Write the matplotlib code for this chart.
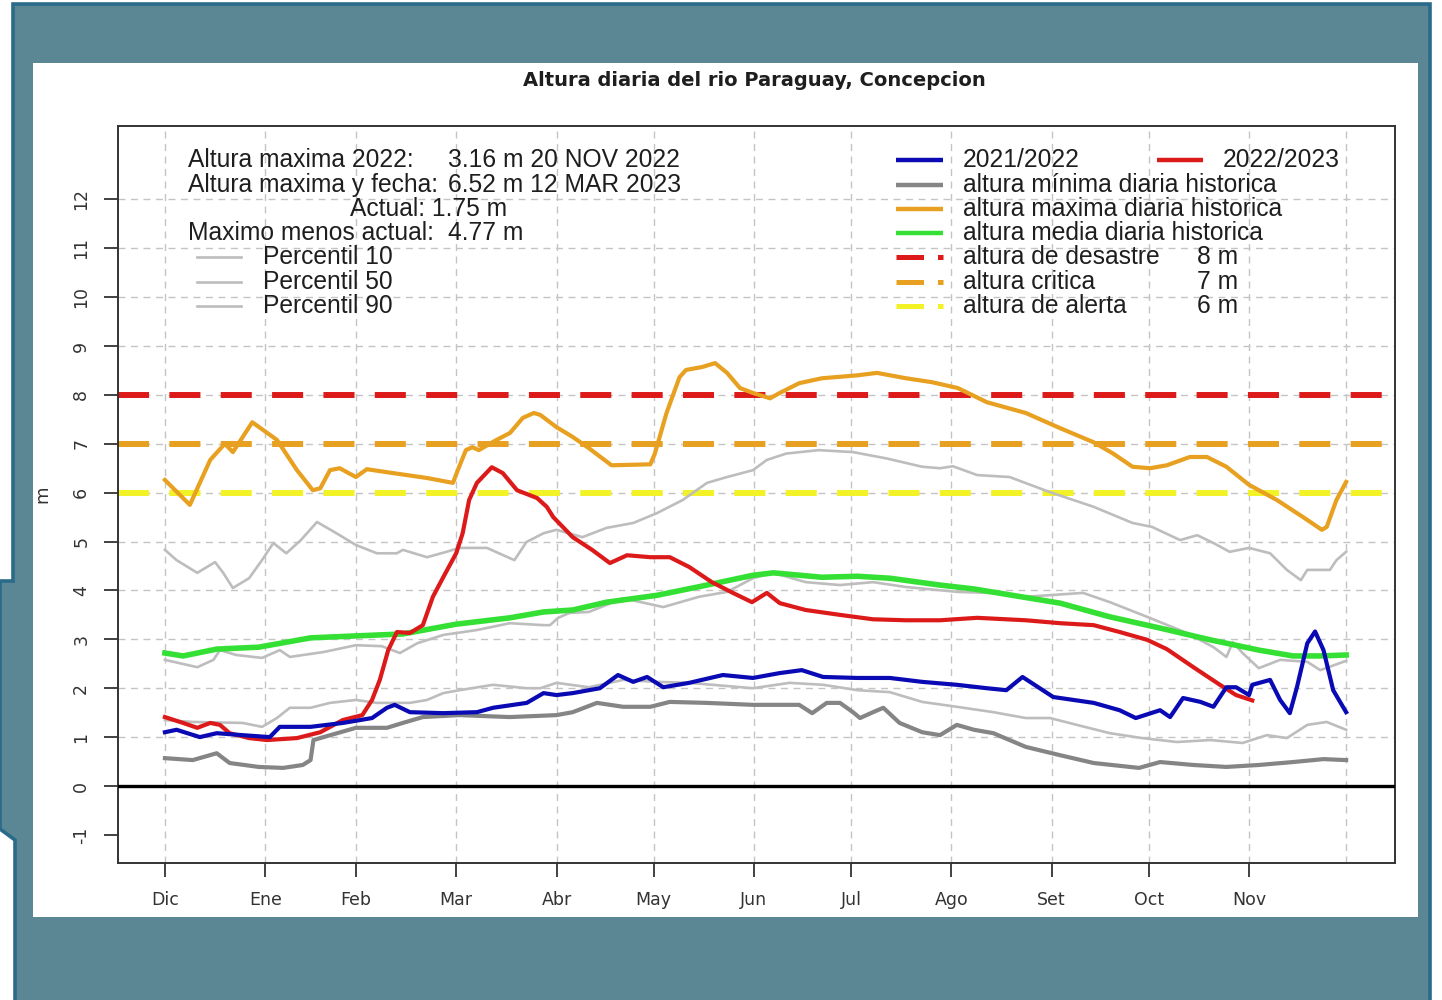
import matplotlib
matplotlib.use('Agg')
import matplotlib.pyplot as plt
from matplotlib.patches import Polygon, Rectangle
from matplotlib.lines import Line2D

# ---------------- data (day index from 1 Dec) ----------------
month_labels = ['Dic', 'Ene', 'Feb', 'Mar', 'Abr', 'May', 'Jun', 'Jul', 'Ago', 'Set', 'Oct', 'Nov']
month_days = [0, 31, 59, 90, 121, 151, 182, 212, 243, 274, 304, 335]
grid_x_days = month_days + [365]
y_ticks = list(range(-1, 13))
grid_y = list(range(1, 13))

threshold_values = [8, 7, 6]
threshold_colors = ['#dd1a1a', '#e8a020', '#f2f226']

max_days = [0, 7.7, 14, 18.5, 21, 27, 34.6, 40.8, 45.7, 48, 51, 54, 59, 62.4, 70.5, 81, 89, 90.5, 93, 95, 97,
            102.5, 106.6, 110.6, 114, 116, 121, 126, 131, 138, 150, 151.4, 155, 159, 161, 166, 170, 173.7,
            177.7, 181.7, 187, 190, 196, 203, 214, 220, 229, 237, 245, 254, 266, 276.6, 287, 293, 299, 304.4,
            309.6, 316.7, 322, 328, 335, 343.6, 351.7, 357.5, 359, 362, 365]
max_vals = [6.26, 5.75, 6.67, 7.0, 6.83, 7.44, 7.08, 6.46, 6.05, 6.09, 6.46, 6.5, 6.32, 6.48, 6.4, 6.3, 6.2,
            6.46, 6.87, 6.93, 6.87, 7.08, 7.22, 7.53, 7.63, 7.59, 7.34, 7.14, 6.91, 6.56, 6.58, 6.8, 7.63,
            8.36, 8.51, 8.57, 8.65, 8.45, 8.14, 8.04, 7.93, 8.04, 8.24, 8.34, 8.4, 8.45, 8.34, 8.26, 8.14,
            7.85, 7.63, 7.32, 7.03, 6.8, 6.53, 6.5, 6.56, 6.73, 6.73, 6.53, 6.16, 5.85, 5.5, 5.24, 5.3, 5.85,
            6.22]

p90_days = [0, 3.6, 10, 15.5, 18, 21, 26, 30, 33.5, 37.5, 42, 47, 53, 59, 65.5, 71.7, 73.5, 81, 87, 91, 99.5,
            106.6, 108, 111.7, 117, 121, 129, 136.5, 144.7, 152, 160, 167.5, 173.7, 181.7, 186, 192, 202,
            212.6, 223, 234, 239.5, 243.5, 251, 261, 273.5, 287, 299, 305, 313.7, 319, 324, 329, 335, 341.5,
            346.7, 351, 353, 360, 362, 365]
p90_vals = [4.83, 4.62, 4.36, 4.58, 4.36, 4.05, 4.25, 4.62, 4.97, 4.76, 5.03, 5.4, 5.17, 4.93, 4.76, 4.76,
            4.83, 4.68, 4.79, 4.87, 4.87, 4.66, 4.62, 4.99, 5.17, 5.24, 5.09, 5.28, 5.38, 5.58, 5.85, 6.2,
            6.32, 6.46, 6.67, 6.8, 6.87, 6.83, 6.7, 6.53, 6.5, 6.54, 6.36, 6.32, 6.01, 5.71, 5.38, 5.3, 5.03,
            5.13, 4.97, 4.79, 4.87, 4.76, 4.42, 4.21, 4.42, 4.42, 4.62, 4.79]

mean_days = [0, 5.6, 16, 29, 45, 59, 73.5, 90, 106.6, 117, 126, 136.5, 152, 167.5, 181.7, 188, 203, 214, 224,
             239.5, 250, 261, 276.6, 292, 307.5, 323, 338, 348.6, 357, 365]
mean_vals = [2.72, 2.66, 2.8, 2.84, 3.03, 3.07, 3.11, 3.31, 3.44, 3.56, 3.6, 3.76, 3.9, 4.11, 4.31, 4.36, 4.27,
             4.29, 4.25, 4.11, 4.03, 3.91, 3.74, 3.46, 3.23, 2.99, 2.78, 2.66, 2.66, 2.68]

p50_days = [0, 10, 15, 17, 22, 30, 35.5, 38.6, 49, 59, 67, 72.6, 78, 86, 96.4, 106.6, 117, 119, 121.5, 125,
            131, 141.6, 154, 165, 173.7, 181.7, 188, 198, 208.6, 218.8, 229, 245, 255, 266, 283.7, 292,
            303.5, 315.8, 324, 328, 330, 333, 338, 344.6, 353, 357, 365]
p50_vals = [2.58, 2.43, 2.58, 2.78, 2.68, 2.62, 2.78, 2.64, 2.74, 2.88, 2.86, 2.72, 2.92, 3.09, 3.19, 3.33,
            3.29, 3.29, 3.44, 3.54, 3.56, 3.84, 3.66, 3.87, 3.97, 4.25, 4.36, 4.17, 4.11, 4.17, 4.07, 3.97,
            3.95, 3.87, 3.95, 3.76, 3.46, 3.13, 2.84, 2.64, 2.94, 2.72, 2.41, 2.58, 2.54, 2.37, 2.56]

red_days = [0, 5.6, 10, 14, 17, 20, 26, 31.5, 40.8, 48, 55, 61, 64, 66.4, 69, 71.7, 75.7, 79.7, 82.8, 86, 90,
            92, 94, 96.4, 101, 104.4, 108.8, 115, 118, 120, 126, 132, 137.5, 142.8, 150, 156, 162, 169,
            175.5, 181.4, 186, 190, 198, 208.6, 218.8, 229, 239.5, 251, 266, 276.6, 287, 295, 303.5, 309.6,
            317.8, 326, 331, 336]
red_vals = [1.41, 1.29, 1.19, 1.29, 1.25, 1.08, 0.98, 0.94, 0.98, 1.1, 1.35, 1.45, 1.76, 2.17, 2.78, 3.15,
            3.13, 3.29, 3.87, 4.27, 4.76, 5.17, 5.85, 6.2, 6.52, 6.4, 6.05, 5.89, 5.71, 5.5, 5.09, 4.83, 4.56,
            4.72, 4.68, 4.68, 4.48, 4.17, 3.95, 3.76, 3.95, 3.74, 3.6, 3.5, 3.41, 3.39, 3.39, 3.44, 3.39,
            3.33, 3.29, 3.15, 2.99, 2.8, 2.43, 2.07, 1.86, 1.75]

blue_days = [0, 3.6, 10.8, 16, 24, 32.4, 35.5, 45, 55, 64, 68.6, 71, 75.7, 86, 96.4, 101.4, 111.8, 117, 121,
             126, 134.4, 140, 144.7, 149, 154, 162, 172.4, 181.7, 190, 196.8, 203.4, 214, 224, 234, 244.7,
             254, 260, 265, 274.5, 287, 295, 300, 307.5, 310.6, 314.6, 320, 324, 328, 331, 335, 336, 341.5,
             344.6, 347.6, 349.8, 353, 355.4, 358, 361, 365]
blue_vals = [1.1, 1.15, 1.0, 1.08, 1.04, 1.0, 1.21, 1.21, 1.29, 1.39, 1.6, 1.66, 1.51, 1.49, 1.51, 1.6, 1.7,
             1.9, 1.86, 1.9, 2.0, 2.27, 2.13, 2.23, 2.02, 2.11, 2.27, 2.21, 2.31, 2.37, 2.23, 2.21, 2.21, 2.13,
             2.07, 2.0, 1.96, 2.23, 1.82, 1.7, 1.55, 1.39, 1.55, 1.41, 1.8, 1.72, 1.62, 2.02, 2.02, 1.86, 2.07,
             2.17, 1.76, 1.49, 2.02, 2.92, 3.16, 2.78, 1.96, 1.51]

p10_days = [0, 8.6, 24, 30, 34.6, 38.6, 45, 51, 59, 65.5, 75.7, 81, 86, 91, 101.4, 111.8, 116, 121, 131, 141.6,
            152, 162, 181.7, 193, 203.4, 214, 224, 234, 244.7, 256, 266, 273.5, 281.8, 292, 302, 312.7, 323,
            333, 340.5, 346.7, 353, 359, 365]
p10_vals = [1.35, 1.31, 1.29, 1.21, 1.39, 1.6, 1.6, 1.7, 1.76, 1.7, 1.7, 1.76, 1.9, 1.96, 2.07, 2.0, 2.0, 2.11,
            2.02, 2.17, 2.13, 2.11, 2.0, 2.11, 2.07, 1.96, 1.92, 1.72, 1.62, 1.51, 1.39, 1.39, 1.25, 1.08,
            0.98, 0.9, 0.94, 0.88, 1.04, 0.98, 1.25, 1.31, 1.15]

min_days = [0, 8.6, 16, 20, 29, 36.5, 42.6, 45, 45.9, 49, 59, 68.6, 73.5, 79.7, 91, 106.6, 121, 126, 133.5,
            141.6, 150, 156, 167.5, 181.7, 196, 200, 204.5, 208.6, 212.6, 214.8, 218.8, 222, 227, 234, 239.5,
            244.7, 250, 256, 266, 276.6, 287, 301, 307.5, 317.8, 328, 338, 348.6, 358, 365]
min_vals = [0.57, 0.53, 0.67, 0.47, 0.39, 0.37, 0.43, 0.53, 0.94, 1.0, 1.19, 1.19, 1.29, 1.41, 1.45, 1.41,
            1.45, 1.51, 1.7, 1.62, 1.62, 1.72, 1.7, 1.66, 1.66, 1.49, 1.7, 1.7, 1.51, 1.39, 1.51, 1.6, 1.29,
            1.1, 1.04, 1.25, 1.15, 1.08, 0.8, 0.63, 0.47, 0.37, 0.49, 0.43, 0.39, 0.43, 0.49, 0.55, 0.53]

title = 'Altura diaria del rio Paraguay, Concepcion'
info_labels = ['Altura maxima 2022:', 'Altura maxima y fecha:', 'Maximo menos actual:']
info_values = ['3.16 m 20 NOV 2022', '6.52 m 12 MAR 2023', '4.77 m']
actual_text = 'Actual: 1.75 m'
percentil_labels = ['Percentil 10', 'Percentil 50', 'Percentil 90']
legend_labels = ['altura mínima diaria historica', 'altura maxima diaria historica',
                 'altura media diaria historica']
threshold_labels = ['altura de desastre', 'altura critica', 'altura de alerta']
threshold_units = ['8 m', '7 m', '6 m']

# ---------------- colours ----------------
C_BLUE = '#0a0ab4'
C_RED = '#dd1a1a'
C_GREEN = '#33e033'
C_ORANGE = '#e8a020'
C_MIN = '#858585'
C_PCT = '#bdbdbd'
C_TEXT = '#1e1e1e'

W, H = 1442, 1000
plt.rcParams['font.family'] = ['Liberation Sans', 'DejaVu Sans']

fig = plt.figure(figsize=(W / 100, H / 100), dpi=100)
fig.patch.set_facecolor('white')


def F(x, y):
    return (x / W, 1 - y / H)


teal = Polygon([F(13, 4), F(1430, 4), F(1430, 1003), F(15, 1003), F(15, 840), F(0, 829),
                F(0, 581), F(13, 581)], closed=True, transform=fig.transFigure,
               facecolor='#5a8793', edgecolor='#2a6b8a', lw=2.6, zorder=-3)
fig.add_artist(teal)
panel = Rectangle(F(33, 917), (1418 - 33) / W, (917 - 63) / H, transform=fig.transFigure,
                  facecolor='white', edgecolor='none', zorder=-2)
fig.add_artist(panel)

ax = fig.add_axes([118 / W, 1 - 863 / H, (1395 - 118) / W, (863 - 126) / H])
ax.set_facecolor('white')
ax.set_xlim(-14.5, 380.1)
ax.set_ylim(-1.575, 13.5)

grid_kw = dict(color='#c4c4c4', lw=1.0, linestyle=(0, (5, 4)), zorder=1)
for gx in grid_x_days:
    ax.axvline(gx, **grid_kw)
for gy in grid_y:
    ax.axhline(gy, **grid_kw)

for val, col in zip(threshold_values, threshold_colors):
    ax.axhline(val, color=col, lw=4.3, linestyle=(0, (5.2, 3.4)), dash_capstyle='butt', zorder=2)

ax.axhline(0, color='black', lw=2.4, zorder=3)

ax.plot(p90_days, p90_vals, color=C_PCT, lw=1.9, zorder=4)
ax.plot(p50_days, p50_vals, color=C_PCT, lw=1.9, zorder=4)
ax.plot(p10_days, p10_vals, color=C_PCT, lw=1.9, zorder=4)
ax.plot(min_days, min_vals, color=C_MIN, lw=3.0, zorder=5)
ax.plot(max_days, max_vals, color=C_ORANGE, lw=3.0, zorder=5)
ax.plot(mean_days, mean_vals, color=C_GREEN, lw=4.0, zorder=5)
ax.plot(red_days, red_vals, color=C_RED, lw=3.0, zorder=6)
ax.plot(blue_days, blue_vals, color=C_BLUE, lw=3.0, zorder=7)

ax.set_xticks(month_days)
ax.set_xticklabels(month_labels, fontsize=12.5, color='#333333', family='DejaVu Sans')
ax.set_yticks(y_ticks)
ax.set_yticklabels([str(v) for v in y_ticks], fontsize=12.5, color='#333333', rotation=90,
                   va='center', family='DejaVu Sans')
ax.tick_params(axis='x', length=10, width=1.3, color='#333333', pad=10)
ax.tick_params(axis='y', length=10, width=1.3, color='#333333', pad=10)
for sp in ax.spines.values():
    sp.set_color('#333333')
    sp.set_linewidth(1.4)
ax.set_ylabel('m', fontsize=13, color='#333333', family='DejaVu Sans', labelpad=15)

fig.text(*F(754, 81), title, ha='center', va='center', fontsize=14, fontweight='bold',
         family='DejaVu Sans', color=C_TEXT)

# ---------------- left info block ----------------
FS = 17.7
rows_y = [160, 185, 209, 233, 257, 282, 306]
fig.text(*F(188, rows_y[0]), info_labels[0], fontsize=FS, va='center', color=C_TEXT)
fig.text(*F(448, rows_y[0]), info_values[0], fontsize=FS, va='center', color=C_TEXT)
fig.text(*F(188, rows_y[1]), info_labels[1], fontsize=FS, va='center', color=C_TEXT)
fig.text(*F(448, rows_y[1]), info_values[1], fontsize=FS, va='center', color=C_TEXT)
fig.text(*F(350, rows_y[2]), actual_text, fontsize=FS, va='center', color=C_TEXT)
fig.text(*F(188, rows_y[3]), info_labels[2], fontsize=FS, va='center', color=C_TEXT)
fig.text(*F(448, rows_y[3]), info_values[2], fontsize=FS, va='center', color=C_TEXT)
for lab, yy in zip(percentil_labels, rows_y[4:]):
    fig.add_artist(Line2D([197 / W, 241 / W], [1 - yy / H] * 2, transform=fig.transFigure,
                          color=C_PCT, lw=1.9))
    fig.text(*F(263, yy), lab, fontsize=FS, va='center', color=C_TEXT)

# ---------------- right legend ----------------
def sample(x0, x1, yy, col, lw, ls='-'):
    fig.add_artist(Line2D([x0 / W, x1 / W], [1 - yy / H] * 2, transform=fig.transFigure,
                          color=col, lw=lw, linestyle=ls, dash_capstyle='butt',
                          solid_capstyle='butt'))


sample(896, 943, rows_y[0], C_BLUE, 3.2)
fig.text(*F(963, rows_y[0]), '2021/2022', fontsize=FS, va='center', color=C_TEXT)
sample(1157, 1203, rows_y[0], C_RED, 3.2)
fig.text(*F(1223, rows_y[0]), '2022/2023', fontsize=FS, va='center', color=C_TEXT)
for lab, col, yy in zip(legend_labels, [C_MIN, C_ORANGE, C_GREEN], rows_y[1:4]):
    sample(896, 943, yy, col, 3.2)
    fig.text(*F(963, yy), lab, fontsize=FS, va='center', color=C_TEXT)
for lab, unit, col, yy in zip(threshold_labels, threshold_units, threshold_colors, rows_y[4:]):
    sample(896, 943, yy, col, 3.6, ls=(0, (5.5, 2.8)))
    fig.text(*F(963, yy), lab, fontsize=FS, va='center', color=C_TEXT)
    fig.text(*F(1197, yy), unit, fontsize=FS, va='center', color=C_TEXT)

fig.savefig('out.png', dpi=100, facecolor='white')
